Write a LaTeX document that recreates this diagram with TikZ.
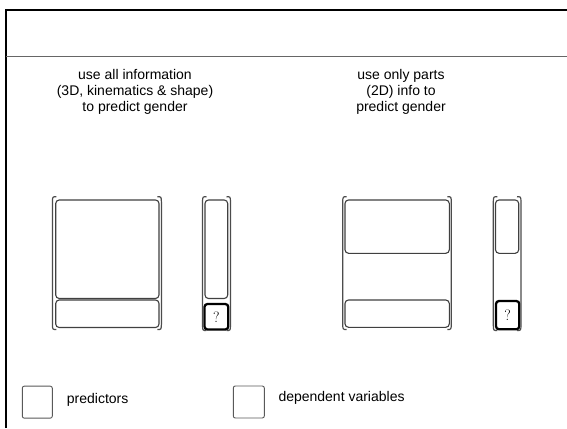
\documentclass[tikz,border=0pt]{standalone}
\usepackage{fontspec}
\setsansfont{Liberation Sans}
\tikzset{
  cell/.style={draw=black!75, line width=1.1pt, rounded corners=3.5pt, inner sep=0pt, outer sep=0pt},
  target/.style={draw=black, line width=2.3pt, rounded corners=3pt, inner sep=0pt, outer sep=0pt, font=\rmfamily\fontsize{15}{17}\selectfont},
  span/.style={inner sep=0pt, outer sep=0pt},
  brk/.style={draw=black!70, line width=1.2pt},
  key/.style={draw=black!65, line width=0.9pt, rounded corners=2pt, inner sep=0pt, minimum width=30pt, minimum height=32pt},
  lbl/.style={font=\sffamily\fontsize{14}{16}\selectfont, inner sep=0pt, anchor=base},
  keylbl/.style={font=\sffamily\fontsize{14}{16}\selectfont, inner sep=0pt, anchor=base west}
}
% curled brackets on both sides of a matrix span node
\newcommand\matbrackets[1]{%
  \draw[brk] ([xshift=4pt]#1.north west) .. controls ([xshift=0.2pt]#1.north west) .. ([yshift=-5pt]#1.north west)
    -- ([yshift=5pt]#1.south west) .. controls ([xshift=0.2pt]#1.south west) .. ([xshift=4pt]#1.south west);
  \draw[brk] ([xshift=-4pt]#1.north east) .. controls ([xshift=-0.2pt]#1.north east) .. ([yshift=-5pt]#1.north east)
    -- ([yshift=5pt]#1.south east) .. controls ([xshift=-0.2pt]#1.south east) .. ([xshift=-4pt]#1.south east);
}
\begin{document}
\begin{tikzpicture}[x=1pt, y=-1pt]
\useasboundingbox (0,0) rectangle (567,428);
\fill[white] (0,0) rectangle (567,428);

% frame
\coordinate (fTL) at (5.8,10);
\coordinate (fTR) at (567,10);
\coordinate (fBL) at (5.8,428);
\coordinate (hL) at (5.8,56.7);
\coordinate (hR) at (567,56.7);
\draw[line width=2pt] (fBL) -- (fTL) -- (fTR);
\draw[black!60, line width=1.2pt] (hL) -- (hR);

% captions
\node[lbl] (t1a) at (135,79.3) {use all information};
\node[lbl] (t1b) at (135,95.3) {(3D, kinematics \& shape)};
\node[lbl] (t1c) at (135,111.3) {to predict gender};
\node[lbl] (t2a) at (401,79.3) {use only parts};
\node[lbl] (t2b) at (401,95.3) {(2D) info to};
\node[lbl] (t2c) at (401,111.3) {predict gender};

% left: all predictors
\node[cell, minimum width=103.3pt, minimum height=98.5pt] (a1) at (107.35,249.25) {};
\node[cell, minimum width=103.3pt, minimum height=27.5pt] (a2) at (107.35,313.75) {};
\node[span, minimum width=109pt, minimum height=132.8pt] (abr) at (106.9,263.1) {};
\matbrackets{abr}

\node[cell, minimum width=22.7pt, minimum height=98.5pt] (b1) at (216.35,249.25) {};
\node[target, minimum width=23.8pt, minimum height=25.5pt] (b2) at (216.4,316.75) {?};
\node[span, minimum width=28pt, minimum height=133.8pt] (bbr) at (216.5,263.6) {};
\matbrackets{bbr}

% right: parts only
\node[cell, minimum width=104.3pt, minimum height=53.3pt] (c1) at (397.15,226.65) {};
\node[cell, minimum width=104.3pt, minimum height=27.3pt] (c2) at (397.15,313.65) {};
\node[span, minimum width=108.6pt, minimum height=132.8pt] (cbr) at (397,263.1) {};
\matbrackets{cbr}

\node[cell, minimum width=23.2pt, minimum height=53.3pt] (d1) at (507.1,226.65) {};
\node[target, minimum width=23.3pt, minimum height=28.3pt] (d2) at (507.65,315.15) {?};
\node[span, minimum width=27.7pt, minimum height=133.8pt] (dbr) at (507.15,263.6) {};
\matbrackets{dbr}

% legend
\node[key] (k1) at (37.3,402.15) {};
\node[keylbl] (k1t) at (66.7,403.3) {predictors};
\node[key, minimum width=31pt] (k2) at (248.8,402) {};
\node[keylbl] (k2t) at (278.3,401) {dependent variables};
\end{tikzpicture}
\end{document}
